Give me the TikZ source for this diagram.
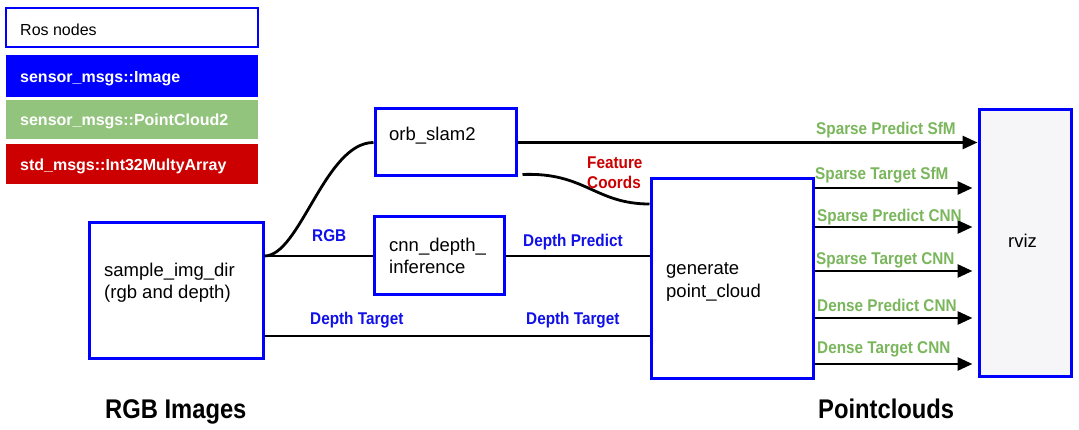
\documentclass[tikz,border=0pt]{standalone}
\usepackage{fontspec}
\usepackage{graphicx}
\setmainfont{Liberation Sans}
\usetikzlibrary{arrows.meta}
\definecolor{rosblue}{HTML}{0000FF}
\definecolor{lblblue}{HTML}{1010E8}
\definecolor{pcgreen}{HTML}{93C47D}
\definecolor{lblgreen}{HTML}{7AB65C}
\definecolor{intred}{HTML}{CC0000}
\definecolor{rvizfill}{HTML}{F6F6F8}
\newcommand{\cond}[1]{\scalebox{0.9}[1]{#1}}
\tikzset{
  rosbox/.style={draw=rosblue, line width=3pt, rectangle, inner sep=0pt},
  legbox/.style={rectangle, inner sep=0pt, minimum width=252pt},
  nodetxt/.style={anchor=base west, inner sep=0pt, font=\fontsize{18.5}{22}\selectfont},
  legtxt/.style={anchor=base west, inner sep=0pt, font=\fontsize{16}{19}\selectfont\bfseries, text=white},
  bluelbl/.style={anchor=base west, inner sep=0pt, font=\fontsize{17}{20}\selectfont\bfseries, text=lblblue},
  greenlbl/.style={anchor=base west, inner sep=0pt, font=\fontsize{17}{20}\selectfont\bfseries, text=lblgreen},
  redlbl/.style={anchor=base west, inner sep=0pt, font=\fontsize{17}{20}\selectfont\bfseries, text=intred},
  bigtxt/.style={anchor=base west, inner sep=0pt, font=\fontsize{27}{30}\selectfont\bfseries},
  conn/.style={line width=2.8pt, black},
  arr/.style={conn, -{Triangle[length=15pt,width=13pt]}}
}
\begin{document}
\begin{tikzpicture}[x=1pt,y=-1pt]
\useasboundingbox (0,0) rectangle (1079,430);
% legend
\node[legbox, draw=rosblue, line width=2.4pt, fill=white, minimum height=39pt] (leg0) at (132,27.5) {};
\node[legbox, fill=rosblue, minimum height=42pt] (leg1) at (132,76) {};
\node[legbox, fill=pcgreen, minimum height=39pt] (leg2) at (132,119.5) {};
\node[legbox, fill=intred, minimum height=40pt] (leg3) at (132,164) {};
\node[nodetxt, font=\fontsize{16}{19}\selectfont] (leg0t) at (20,36) {Ros nodes};
\node[legtxt] (leg1t) at (20,83) {sensor\_msgs::Image};
\node[legtxt] (leg2t) at (20,126) {sensor\_msgs::PointCloud2};
\node[legtxt] (leg3t) at (20,171) {std\_msgs::Int32MultyArray};
% ros nodes
\node[rosbox, minimum width=174pt, minimum height=135pt] (sample) at (176,290.5) {};
\node[rosbox, minimum width=141pt, minimum height=67pt] (orb) at (445.5,142.5) {};
\node[rosbox, minimum width=130pt, minimum height=78pt] (cnn) at (439,256) {};
\node[rosbox, minimum width=162pt, minimum height=199pt] (gen) at (732,278.5) {};
\node[rosbox, fill=rvizfill, minimum width=92pt, minimum height=266pt] (rviz) at (1025,243) {};
\node[nodetxt] (samplet) at (104,277) {sample\_img\_dir};
\node[nodetxt] (samplet2) at (104,299) {(rgb and depth)};
\node[nodetxt] (orbt) at (389,141) {orb\_slam2};
\node[nodetxt] (cnnt) at (389,252) {cnn\_depth\_};
\node[nodetxt] (cnnt2) at (389,274) {inference};
\node[nodetxt] (gent) at (666,275) {generate};
\node[nodetxt] (gent2) at (666,298) {point\_cloud};
\node[nodetxt] (rvizt) at (1008,248) {rviz};
% helper coordinates
\coordinate (ydt) at (0,336);
\coordinate (yfc) at (0,204);
\coordinate (y1) at (0,188);
\coordinate (y2) at (0,227);
\coordinate (y3) at (0,271);
\coordinate (y4) at (0,318);
\coordinate (y5) at (0,364);
% connectors
\draw[conn] (sample.east |- cnn.west) .. controls (300,256) and (325,142.5) .. (orb.west);
\draw[conn] (sample.east |- cnn.west) -- (cnn.west);
\draw[conn] (cnn.east) -- (gen.west |- cnn.east);
\draw[conn] (sample.east |- ydt) -- (gen.west |- ydt);
\draw[conn] ([xshift=5pt,yshift=3pt]orb.south east) .. controls (585,172) and (595,204) .. (gen.west |- yfc);
\draw[arr] (orb.east) -- (rviz.west |- orb.east);
\draw[arr] (gen.east |- y1) -- ([xshift=-5pt]rviz.west |- y1);
\draw[arr] (gen.east |- y2) -- ([xshift=-5pt]rviz.west |- y2);
\draw[arr] (gen.east |- y3) -- ([xshift=-5pt]rviz.west |- y3);
\draw[arr] (gen.east |- y4) -- ([xshift=-5pt]rviz.west |- y4);
\draw[arr] (gen.east |- y5) -- ([xshift=-5pt]rviz.west |- y5);
% labels
\node[bluelbl] (lrgb) at (312,242) {\cond{RGB}};
\node[bluelbl] (ldp) at (523,247) {\cond{Depth Predict}};
\node[bluelbl] (ldt1) at (310,325) {\cond{Depth Target}};
\node[bluelbl] (ldt2) at (526,325) {\cond{Depth Target}};
\node[redlbl] (lfc1) at (587,169) {\cond{Feature}};
\node[redlbl] (lfc2) at (587,189) {\cond{Coords}};
\node[greenlbl] (g1) at (816,135) {\cond{Sparse Predict SfM}};
\node[greenlbl] (g2) at (815,180) {\cond{Sparse Target SfM}};
\node[greenlbl] (g3) at (817,222) {\cond{Sparse Predict CNN}};
\node[greenlbl] (g4) at (816,265) {\cond{Sparse Target CNN}};
\node[greenlbl] (g5) at (817,312) {\cond{Dense Predict CNN}};
\node[greenlbl] (g6) at (817,353) {\cond{Dense Target CNN}};
% captions
\node[bigtxt] (cap1) at (105,418) {\scalebox{0.88}[1]{RGB Images}};
\node[bigtxt] (cap2) at (818,418) {\scalebox{0.88}[1]{Pointclouds}};
\end{tikzpicture}
\end{document}
